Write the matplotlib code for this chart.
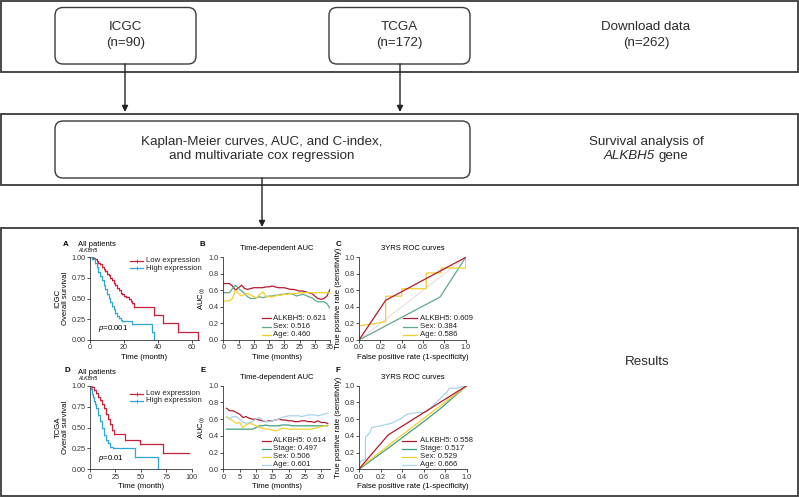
import numpy as np
import matplotlib
matplotlib.use("Agg")
import matplotlib.pyplot as plt
from matplotlib.patches import FancyBboxPatch, Rectangle
from matplotlib.lines import Line2D

plt.rcParams['font.family'] = ['Liberation Sans', 'DejaVu Sans']
plt.rcParams['mathtext.fontset'] = 'custom'
plt.rcParams['mathtext.rm'] = 'Liberation Sans'
plt.rcParams['mathtext.it'] = 'Liberation Sans:italic'

# ---------------- data ----------------
# ICGC Kaplan-Meier
icgc_low_t = [0, 1.5, 3, 4, 5, 6, 7, 8, 9, 10, 11, 12, 13, 14, 15, 16, 17, 18, 19, 20, 21, 23, 24, 25, 26, 38, 43, 52, 63.8, 64]
icgc_low_s = [1.0, 0.99, 0.97, 0.95, 0.93, 0.91, 0.88, 0.85, 0.83, 0.80, 0.78, 0.75, 0.72, 0.69, 0.66, 0.63, 0.60, 0.57, 0.55, 0.53, 0.52, 0.50, 0.47, 0.45, 0.40, 0.30, 0.20, 0.10, 0.0, 0.0]
icgc_high_t = [0, 1, 3, 4, 5, 6, 7, 8, 9, 10, 11, 12, 13, 14, 15, 16, 17, 18, 19, 25, 36.5, 37.5]
icgc_high_s = [1.0, 0.98, 0.93, 0.88, 0.82, 0.77, 0.72, 0.66, 0.61, 0.56, 0.51, 0.46, 0.41, 0.37, 0.33, 0.29, 0.26, 0.24, 0.23, 0.19, 0.10, 0.0]
# TCGA Kaplan-Meier
tcga_low_t = [0, 2, 4, 6, 8, 10, 12, 14, 16, 18, 20, 22, 24, 34, 49, 72, 97]
tcga_low_s = [1.0, 0.98, 0.95, 0.91, 0.87, 0.83, 0.78, 0.73, 0.66, 0.60, 0.54, 0.47, 0.42, 0.35, 0.30, 0.20, 0.20]
tcga_high_t = [0, 1, 2, 3, 4, 5, 6, 8, 10, 12, 14, 16, 18, 20, 23, 44, 67, 67.5]
tcga_high_s = [1.0, 0.96, 0.90, 0.86, 0.82, 0.78, 0.73, 0.65, 0.58, 0.50, 0.41, 0.35, 0.31, 0.27, 0.26, 0.15, 0.0, 0.0]

# ICGC time-dependent AUC
b_time = [0, 1, 2, 3, 4, 5, 6, 7, 8, 9, 10, 11, 12, 13, 14, 15, 16, 17, 18, 19, 20, 21, 22, 23, 24, 25, 26, 27, 28, 29, 30, 31, 32, 33, 34, 35]
b_alkbh5 = [0.68, 0.68, 0.68, 0.65, 0.60, 0.63, 0.66, 0.62, 0.61, 0.62, 0.63, 0.63, 0.63, 0.63, 0.64, 0.64, 0.65, 0.64, 0.63, 0.63, 0.63, 0.62, 0.61, 0.61, 0.60, 0.59, 0.59, 0.58, 0.57, 0.56, 0.53, 0.50, 0.49, 0.50, 0.53, 0.61]
b_sex = [0.57, 0.57, 0.57, 0.62, 0.66, 0.62, 0.59, 0.56, 0.52, 0.50, 0.50, 0.51, 0.52, 0.51, 0.52, 0.53, 0.53, 0.54, 0.54, 0.55, 0.55, 0.56, 0.56, 0.55, 0.53, 0.54, 0.55, 0.54, 0.52, 0.51, 0.48, 0.46, 0.46, 0.46, 0.44, 0.38]
b_age = [0.47, 0.47, 0.47, 0.50, 0.60, 0.56, 0.53, 0.55, 0.56, 0.54, 0.52, 0.51, 0.55, 0.58, 0.53, 0.52, 0.52, 0.53, 0.54, 0.54, 0.55, 0.55, 0.56, 0.56, 0.56, 0.57, 0.57, 0.57, 0.57, 0.57, 0.57, 0.57, 0.57, 0.57, 0.57, 0.57]

# TCGA time-dependent AUC
e_time = [1, 2, 3, 4, 5, 6, 7, 8, 9, 10, 11, 12, 13, 14, 15, 16, 17, 18, 19, 20, 21, 22, 23, 24, 25, 26, 27, 28, 29, 30, 31, 32]
e_alkbh5 = [0.73, 0.70, 0.70, 0.68, 0.66, 0.62, 0.63, 0.61, 0.60, 0.60, 0.59, 0.58, 0.57, 0.58, 0.58, 0.59, 0.60, 0.59, 0.59, 0.58, 0.58, 0.57, 0.57, 0.58, 0.58, 0.57, 0.57, 0.56, 0.58, 0.56, 0.56, 0.55]
e_stage = [0.48, 0.48, 0.48, 0.48, 0.48, 0.48, 0.48, 0.48, 0.48, 0.50, 0.52, 0.52, 0.53, 0.52, 0.52, 0.52, 0.52, 0.53, 0.53, 0.53, 0.52, 0.52, 0.52, 0.52, 0.52, 0.52, 0.52, 0.52, 0.52, 0.52, 0.52, 0.52]
e_sex = [0.63, 0.60, 0.58, 0.55, 0.56, 0.50, 0.53, 0.55, 0.54, 0.52, 0.50, 0.49, 0.48, 0.48, 0.47, 0.46, 0.47, 0.49, 0.49, 0.48, 0.48, 0.48, 0.48, 0.48, 0.48, 0.48, 0.48, 0.49, 0.50, 0.51, 0.52, 0.53]
e_age = [0.62, 0.61, 0.63, 0.63, 0.60, 0.57, 0.55, 0.56, 0.57, 0.60, 0.62, 0.59, 0.57, 0.57, 0.58, 0.59, 0.60, 0.62, 0.63, 0.64, 0.64, 0.64, 0.64, 0.63, 0.64, 0.65, 0.65, 0.65, 0.64, 0.65, 0.66, 0.67]

# ICGC 3-year ROC
c_alk_fpr = [0, 0.25, 1.0]
c_alk_tpr = [0, 0.48, 1.0]
c_sex_fpr = [0, 0.76, 1.0]
c_sex_tpr = [0, 0.52, 1.0]
c_age_fpr = [0, 0, 0.25, 0.25, 0.40, 0.40, 0.63, 0.63, 0.77, 0.77, 1.0, 1.0]
c_age_tpr = [0, 0.17, 0.22, 0.53, 0.53, 0.62, 0.62, 0.81, 0.81, 0.87, 0.87, 1.0]

# TCGA 3-year ROC
f_alk_fpr = [0, 0.05, 0.27, 1.0]
f_alk_tpr = [0, 0.08, 0.41, 1.0]
f_stage_fpr = [0, 0.3, 0.6, 0.75, 1.0]
f_stage_tpr = [0, 0.28, 0.57, 0.72, 1.0]
f_sex_fpr = [0, 0.5, 1.0]
f_sex_tpr = [0.01, 0.51, 1.0]
f_age_fpr = [0, 0.02, 0.06, 0.06, 0.10, 0.12, 0.20, 0.30, 0.38, 0.45, 0.55, 0.62, 0.66, 0.70, 0.75, 0.82, 0.84, 0.90, 0.97, 1.0]
f_age_tpr = [0.05, 0.10, 0.12, 0.38, 0.44, 0.50, 0.52, 0.55, 0.60, 0.66, 0.68, 0.68, 0.72, 0.78, 0.84, 0.93, 0.97, 0.97, 0.99, 1.0]

b_legend = ['ALKBH5: 0.621', 'Sex: 0.516', 'Age: 0.460']
c_legend = ['ALKBH5: 0.609', 'Sex: 0.384', 'Age: 0.586']
e_legend = ['ALKBH5: 0.614', 'Stage: 0.497', 'Sex: 0.506', 'Age: 0.601']
f_legend = ['ALKBH5: 0.558', 'Stage: 0.517', 'Sex: 0.529', 'Age: 0.666']

# ---------------- style ----------------
W, H = 799, 497
RED = '#c8203a'
BLUE = '#2ea6d6'
DRED = '#b3192e'
TEAL = '#62a88b'
YEL = '#f2cf2f'
GRN = '#3f9f7c'
LBLUE = '#a9d3ea'
EDGE = '#3a3a3a'
FS_BOX = 9.6
FS_S = 5.2

fig = plt.figure(figsize=(W / 100, H / 100), dpi=100)
bg = fig.add_axes([0, 0, 1, 1])
bg.set_xlim(0, W)
bg.set_ylim(H, 0)
bg.axis('off')

# outer frames
for (y0, y1) in [(1, 71.5), (113.5, 184.5), (228, 496)]:
    bg.add_patch(Rectangle((1, y0), W - 2.5, y1 - y0, fill=False, ec=EDGE, lw=1.3))

def rbox(x0, y0, x1, y1):
    bg.add_patch(FancyBboxPatch((x0, y0), x1 - x0, y1 - y0,
                                boxstyle='round,pad=0,rounding_size=8',
                                fill=False, ec=EDGE, lw=1.0))

rbox(55, 7.5, 196, 64)
rbox(329, 7.5, 470, 64)
rbox(55, 121, 470, 178)

def arrow(x, y0, y1):
    bg.annotate('', xy=(x, y1), xytext=(x, y0),
                arrowprops=dict(arrowstyle='-|>', color='#222222', lw=1.0,
                                mutation_scale=9, shrinkA=0, shrinkB=0))

arrow(125, 64, 112)
arrow(400, 64, 112)
arrow(262, 178, 227)

tk = dict(ha='center', va='center', fontsize=FS_BOX, color='#2a2a2a')
bg.text(125.5, 27.5, 'ICGC', **tk)
bg.text(125.5, 43, '(n=90)', **tk)
bg.text(399.5, 27.5, 'TCGA', **tk)
bg.text(399.5, 43, '(n=172)', **tk)
bg.text(646, 27.5, 'Download data', **tk)
bg.text(646, 43, '(n=262)', **tk)
bg.text(262, 141.5, 'Kaplan-Meier curves, AUC, and C-index,', **tk)
bg.text(262, 156, 'and multivariate cox regression', **tk)
bg.text(646, 141.5, 'Survival analysis of', **tk)
bg.text(647, 362, 'Results', **tk)

# mixed italic / upright line
renderer = fig.canvas.get_renderer()
probe_all = bg.text(0, 0, 'ALKBH5 gene', fontsize=FS_BOX)
w_all = probe_all.get_window_extent(renderer).width
probe_all.remove()
left = 646 - w_all / 2
right = 646 + w_all / 2
bg.text(left, 156, 'ALKBH5', ha='left', va='center', fontsize=FS_BOX, style='italic', color='#2a2a2a')
bg.text(right, 156, 'gene', ha='right', va='center', fontsize=FS_BOX, color='#2a2a2a')

def px_axes(x0, y0, x1, y1):
    return fig.add_axes([x0 / W, 1 - y1 / H, (x1 - x0) / W, (y1 - y0) / H])

def style(ax):
    for s in ['top', 'right']:
        ax.spines[s].set_visible(False)
    for s in ['left', 'bottom']:
        ax.spines[s].set_linewidth(0.6)
        ax.spines[s].set_color('#333333')
    ax.tick_params(labelsize=FS_S, length=2, width=0.6, pad=1.2, colors='#333333')
    ax.patch.set_alpha(0)

def legend_lines(x0, x1, xt, ys, colors, labels, marker=None):
    for y, c, lab in zip(ys, colors, labels):
        bg.add_line(Line2D([x0, x1], [y, y], color=c, lw=0.9))
        if marker:
            bg.add_line(Line2D([(x0 + x1) / 2], [y], color=c, marker='|', ms=2.5, mew=0.6))
        bg.text(xt, y, lab, fontsize=FS_S + 0.4, va='center', ha='left', color='#222222')

def km(ax, t, s, c):
    ax.step(t, s, where='post', color=c, lw=0.9)
    ax.plot(t[1:-1], s[1:-1], ls='none', marker='|', ms=2, mew=0.5, color=c)

# ---------- Panel A ----------
axA = px_axes(90, 257, 198.5, 340)
km(axA, icgc_low_t, icgc_low_s, RED)
km(axA, icgc_high_t, icgc_high_s, BLUE)
axA.set_xlim(0, 64)
axA.set_ylim(0, 1.0)
axA.set_xticks([0, 20, 40, 60])
axA.set_yticks([0, 0.25, 0.5, 0.75, 1.0])
axA.set_yticklabels(['0.00', '0.25', '0.50', '0.75', '1.00'])
style(axA)
axA.set_xlabel('Time (month)', fontsize=FS_S + 0.4, labelpad=1.5)
axA.set_ylabel('Overall survival', fontsize=FS_S + 0.4, labelpad=1.5)
bg.text(58, 298, 'ICGC', rotation=90, fontsize=FS_S + 0.4, ha='center', va='center')
bg.text(98, 329, r'$\it{p}$=0.001', fontsize=FS_S + 0.4, ha='left', va='center')
legend_lines(130, 143, 146, [261, 268], [RED, BLUE], ['Low expression', 'High expression'], marker=True)
bg.text(66, 244, 'A', fontsize=FS_S + 0.5, fontweight='bold', ha='center', va='center')
bg.text(78, 244, 'All patients', fontsize=FS_S + 0.3, ha='left', va='center')
bg.text(78, 250.5, 'ALKBH5', fontsize=3.6, style='italic', ha='left', va='center')

# ---------- Panel B ----------
axB = px_axes(223.3, 257, 330, 340)
axB.plot(b_time, b_alkbh5, color=DRED, lw=0.9)
axB.plot(b_time, b_sex, color=TEAL, lw=0.9)
axB.plot(b_time, b_age, color=YEL, lw=0.9)
axB.set_xlim(0, 35)
axB.set_ylim(0, 1.0)
axB.set_xticks(range(0, 36, 5))
axB.set_yticks([0, 0.2, 0.4, 0.6, 0.8, 1.0])
style(axB)
axB.set_xlabel('Time (months)', fontsize=FS_S + 0.4, labelpad=1.5)
axB.set_ylabel(r'AUC$_{(t)}$', fontsize=FS_S + 0.4, labelpad=1.5)
axB.set_title('Time-dependent AUC', fontsize=FS_S + 0.3, pad=5)
legend_lines(262, 271, 273, [318, 326.5, 334.5], [DRED, TEAL, YEL], b_legend)
bg.text(202, 244, 'B', fontsize=FS_S + 0.5, fontweight='bold', ha='center', va='center')

# ---------- Panel C ----------
axC = px_axes(359, 257.3, 465.7, 340)
axC.plot([0, 1], [0, 1], color='#e6d9dc', lw=0.7)
axC.plot(c_sex_fpr, c_sex_tpr, color=TEAL, lw=0.9)
axC.plot(c_age_fpr, c_age_tpr, color=YEL, lw=0.9)
axC.plot(c_alk_fpr, c_alk_tpr, color=DRED, lw=0.9)
axC.set_xlim(0, 1.0)
axC.set_ylim(0, 1.0)
axC.set_xticks([0, 0.2, 0.4, 0.6, 0.8, 1.0])
axC.set_yticks([0, 0.2, 0.4, 0.6, 0.8, 1.0])
style(axC)
axC.set_xlabel('False positive rate (1-specificity)', fontsize=FS_S + 0.4, labelpad=1.5)
axC.set_ylabel('True positive rate (sensitivity)', fontsize=FS_S + 0.4, labelpad=1.5)
axC.set_title('3YRS ROC curves', fontsize=FS_S + 0.3, pad=5)
legend_lines(403, 417, 420, [318, 326.5, 334.5], [DRED, TEAL, YEL], c_legend)
bg.text(339, 244, 'C', fontsize=FS_S + 0.5, fontweight='bold', ha='center', va='center')

# ---------- Panel D ----------
axD = px_axes(90, 385.7, 191.7, 469.3)
km(axD, tcga_low_t, tcga_low_s, RED)
km(axD, tcga_high_t, tcga_high_s, BLUE)
axD.set_xlim(0, 100)
axD.set_ylim(0, 1.0)
axD.set_xticks([0, 25, 50, 75, 100])
axD.set_yticks([0, 0.25, 0.5, 0.75, 1.0])
axD.set_yticklabels(['0.00', '0.25', '0.50', '0.75', '1.00'])
style(axD)
axD.set_xlabel('Time (month)', fontsize=FS_S + 0.4, labelpad=1.5)
axD.set_ylabel('Overall survival', fontsize=FS_S + 0.4, labelpad=1.5)
bg.text(58, 427, 'TCGA', rotation=90, fontsize=FS_S + 0.4, ha='center', va='center')
bg.text(98, 459, r'$\it{p}$=0.01', fontsize=FS_S + 0.4, ha='left', va='center')
legend_lines(130, 143, 146, [393.5, 401], [RED, BLUE], ['Low expression', 'High expression'], marker=True)
bg.text(67, 371, 'D', fontsize=FS_S + 0.5, fontweight='bold', ha='center', va='center')
bg.text(78, 372, 'All patients', fontsize=FS_S + 0.3, ha='left', va='center')
bg.text(78, 378.5, 'ALKBH5', fontsize=3.6, style='italic', ha='left', va='center')

# ---------- Panel E ----------
axE = px_axes(223.3, 385.7, 330, 469.3)
axE.plot(e_time, e_alkbh5, color=DRED, lw=0.9)
axE.plot(e_time, e_stage, color=GRN, lw=0.9)
axE.plot(e_time, e_sex, color=YEL, lw=0.9)
axE.plot(e_time, e_age, color=LBLUE, lw=0.9)
axE.set_xlim(0, 32.7)
axE.set_ylim(0, 1.0)
axE.set_xticks(range(0, 31, 5))
axE.set_yticks([0, 0.2, 0.4, 0.6, 0.8, 1.0])
style(axE)
axE.set_xlabel('Time (months)', fontsize=FS_S + 0.4, labelpad=1.5)
axE.set_ylabel(r'AUC$_{(t)}$', fontsize=FS_S + 0.4, labelpad=1.5)
axE.set_title('Time-dependent AUC', fontsize=FS_S + 0.3, pad=5)
legend_lines(262, 271, 273, [440.7, 448.7, 456.7, 464.7], [DRED, GRN, YEL, LBLUE], e_legend)
bg.text(203, 371, 'E', fontsize=FS_S + 0.5, fontweight='bold', ha='center', va='center')

# ---------- Panel F ----------
axF = px_axes(359, 385.7, 466.7, 469.3)
axF.plot(f_age_fpr, f_age_tpr, color=LBLUE, lw=0.9)
axF.plot(f_stage_fpr, f_stage_tpr, color=GRN, lw=0.9)
axF.plot(f_sex_fpr, f_sex_tpr, color=YEL, lw=0.9)
axF.plot(f_alk_fpr, f_alk_tpr, color=DRED, lw=0.9)
axF.set_xlim(0, 1.0)
axF.set_ylim(0, 1.0)
axF.set_xticks([0, 0.2, 0.4, 0.6, 0.8, 1.0])
axF.set_yticks([0, 0.2, 0.4, 0.6, 0.8, 1.0])
style(axF)
axF.set_xlabel('False positive rate (1-specificity)', fontsize=FS_S + 0.4, labelpad=1.5)
axF.set_ylabel('True positive rate (sensitivity)', fontsize=FS_S + 0.4, labelpad=1.5)
axF.set_title('3YRS ROC curves', fontsize=FS_S + 0.3, pad=5)
legend_lines(402, 416, 420, [440.7, 448.7, 456.7, 464.7], [DRED, GRN, YEL, LBLUE], f_legend)
bg.text(338, 370, 'F', fontsize=FS_S + 0.5, fontweight='bold', ha='center', va='center')

fig.savefig('out.png', dpi=100)
